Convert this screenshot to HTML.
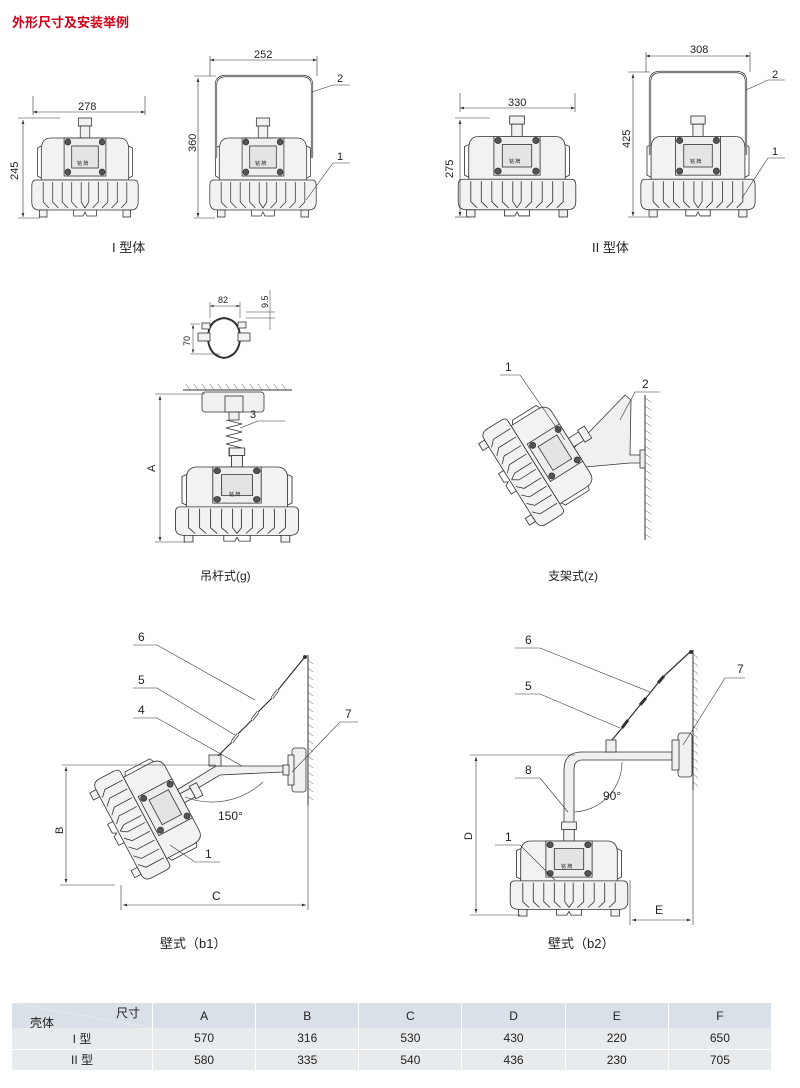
<!DOCTYPE html>
<html><head><meta charset="utf-8">
<style>
body{margin:0;background:#fff;width:800px;height:1088px;overflow:hidden;font-family:"Liberation Sans","Noto Sans CJK SC",sans-serif;}
svg text{font-family:"Liberation Sans","Noto Sans CJK SC",sans-serif;fill:#222;}
table{position:absolute;left:12px;top:1003px;width:760px;border-collapse:collapse;font-size:12px;color:#222;table-layout:fixed;}
td{text-align:center;border-right:1px solid #fff;}
</style></head><body>
<svg width="800" height="1000" viewBox="0 0 800 1000" style="position:absolute;left:0;top:0">
<defs>
<marker id="ar" markerWidth="8" markerHeight="6" refX="7" refY="3" orient="auto-start-reverse"><path d="M0,0.5 L7,3 L0,5.5z" fill="#333"/></marker>
<g id="lamp" stroke="#333" stroke-width="0.8" fill="#f2f2f2">
<rect x="-7" y="0" width="14" height="8"/>
<rect x="-5" y="8" width="10" height="12"/>
<path d="M-46,62 L-46,32 Q-46,20 -36,20 L36,20 Q46,20 46,32 L46,62z"/>
<path d="M-46,28 L-50,30 L-50,58 L-46,60 M46,28 L50,30 L50,58 L46,60" fill="none"/>
<rect x="-22" y="20" width="44" height="38" fill="#eee"/>
<rect x="-14" y="28" width="28" height="22" fill="#e4e4e4"/>
<circle cx="-18" cy="24" r="3" fill="#555"/><circle cx="18" cy="24" r="3" fill="#555"/>
<circle cx="-18" cy="54" r="3" fill="#555"/><circle cx="18" cy="54" r="3" fill="#555"/>
<path d="M-52,62 L52,62 Q56,62 56,68 L56,84 Q56,92 48,92 L-48,92 Q-56,92 -56,84 L-56,68 Q-56,62 -52,62z"/>
<path d="M-44,64 L-44,84 L-38,90 M-34,64 L-34,84 L-28,90 M-24,64 L-24,84 L-18,90 M-14,64 L-14,84 L-8,90 M-4,64 L-4,84 L0,90 M4,64 L4,84 L0,90 M14,64 L14,84 L8,90 M24,64 L24,84 L18,90 M34,64 L34,84 L28,90 M44,64 L44,84 L38,90" fill="none"/>
<rect x="-48" y="92" width="8" height="7"/><rect x="40" y="92" width="8" height="7"/>
<path d="M-12,92 L-12,98 L-2,98 L0,94 L2,98 L12,98 L12,92" fill="none"/>
</g>
</defs>
<text x="12" y="27" font-size="13" font-weight="bold" style="fill:#d0021b">外形尺寸及安装举例</text>

<!-- Type I -->
<use href="#lamp" transform="translate(85,118) scale(0.95,1)"/>
<text x="77" y="165" font-size="5">铭 牌</text>
<line x1="33" y1="115" x2="33" y2="96" stroke="#333" stroke-width="0.6"/><line x1="145" y1="115" x2="145" y2="96" stroke="#333" stroke-width="0.6"/>
<line x1="33" y1="112" x2="145" y2="112" stroke="#333" stroke-width="0.6" marker-start="url(#ar)" marker-end="url(#ar)"/>
<text x="78" y="110" font-size="11">278</text>
<line x1="18" y1="118" x2="60" y2="118" stroke="#333" stroke-width="0.6"/><line x1="18" y1="218" x2="40" y2="218" stroke="#333" stroke-width="0.6"/>
<line x1="23" y1="120" x2="23" y2="217" stroke="#333" stroke-width="0.6" marker-start="url(#ar)" marker-end="url(#ar)"/>
<text x="18" y="180" font-size="11" transform="rotate(-90 18 180)">245</text>

<use href="#lamp" transform="translate(263,118) scale(0.95,1)"/>
<text x="255" y="165" font-size="5">铭 牌</text>
<path d="M216,158 L216,85 Q216,76 226,76 L302,76 Q312,76 312,85 L312,158" fill="none" stroke="#333" stroke-width="2.2"/>
<path d="M216,158 L216,85 Q216,76 226,76 L302,76 Q312,76 312,85 L312,158" fill="none" stroke="#fff" stroke-width="0.8"/>
<line x1="210" y1="76" x2="210" y2="56" stroke="#333" stroke-width="0.6"/><line x1="317" y1="76" x2="317" y2="56" stroke="#333" stroke-width="0.6"/>
<line x1="210" y1="60" x2="317" y2="60" stroke="#333" stroke-width="0.6" marker-start="url(#ar)" marker-end="url(#ar)"/>
<text x="254" y="58" font-size="11">252</text>
<line x1="194" y1="76" x2="216" y2="76" stroke="#333" stroke-width="0.6"/><line x1="194" y1="218" x2="215" y2="218" stroke="#333" stroke-width="0.6"/>
<line x1="198" y1="78" x2="198" y2="217" stroke="#333" stroke-width="0.6" marker-start="url(#ar)" marker-end="url(#ar)"/>
<text x="196" y="152" font-size="11" transform="rotate(-90 196 152)">360</text>
<polyline points="312,92 333,85 350,85" fill="none" stroke="#333" stroke-width="0.6"/><text x="337" y="82" font-size="11">2</text>
<polyline points="306,200 333,163 350,163" fill="none" stroke="#333" stroke-width="0.6"/><text x="337" y="160" font-size="11">1</text>
<text x="112" y="252" font-size="13">I 型体</text>

<!-- Type II -->
<use href="#lamp" transform="translate(517,116) scale(1.05,1.02)"/>
<text x="509" y="163" font-size="5">铭 牌</text>
<line x1="460" y1="112" x2="460" y2="93" stroke="#333" stroke-width="0.6"/><line x1="575" y1="112" x2="575" y2="93" stroke="#333" stroke-width="0.6"/>
<line x1="460" y1="108" x2="575" y2="108" stroke="#333" stroke-width="0.6" marker-start="url(#ar)" marker-end="url(#ar)"/>
<text x="508" y="106" font-size="11">330</text>
<line x1="455" y1="118" x2="490" y2="118" stroke="#333" stroke-width="0.6"/><line x1="455" y1="217" x2="470" y2="217" stroke="#333" stroke-width="0.6"/>
<line x1="460" y1="120" x2="460" y2="216" stroke="#333" stroke-width="0.6" marker-start="url(#ar)" marker-end="url(#ar)"/>
<text x="453" y="178" font-size="11" transform="rotate(-90 453 178)">275</text>

<use href="#lamp" transform="translate(698,116) scale(1.02,1.02)"/>
<text x="690" y="163" font-size="5">铭 牌</text>
<path d="M650,155 L650,82 Q650,72 660,72 L736,72 Q746,72 746,82 L746,155" fill="none" stroke="#333" stroke-width="2.2"/>
<path d="M650,155 L650,82 Q650,72 660,72 L736,72 Q746,72 746,82 L746,155" fill="none" stroke="#fff" stroke-width="0.8"/>
<line x1="646" y1="72" x2="646" y2="52" stroke="#333" stroke-width="0.6"/><line x1="750" y1="72" x2="750" y2="52" stroke="#333" stroke-width="0.6"/>
<line x1="646" y1="56" x2="750" y2="56" stroke="#333" stroke-width="0.6" marker-start="url(#ar)" marker-end="url(#ar)"/>
<text x="690" y="53" font-size="11">308</text>
<line x1="628" y1="72" x2="650" y2="72" stroke="#333" stroke-width="0.6"/><line x1="628" y1="217" x2="648" y2="217" stroke="#333" stroke-width="0.6"/>
<line x1="633" y1="74" x2="633" y2="216" stroke="#333" stroke-width="0.6" marker-start="url(#ar)" marker-end="url(#ar)"/>
<text x="630" y="148" font-size="11" transform="rotate(-90 630 148)">425</text>
<polyline points="746,90 768,80 785,80" fill="none" stroke="#333" stroke-width="0.6"/><text x="772" y="78" font-size="11">2</text>
<polyline points="742,198 768,158 785,158" fill="none" stroke="#333" stroke-width="0.6"/><text x="772" y="155" font-size="11">1</text>
<text x="592" y="252" font-size="13">II 型体</text>

<!-- clamp -->
<g stroke="#333" stroke-width="0.8" fill="#f2f2f2">
<path d="M208,338 Q208,320 224,318 Q240,320 240,338" fill="none" stroke-width="2"/>
<path d="M208,340 Q210,356 224,358 Q238,356 240,340" fill="none" stroke-width="2"/>
<rect x="198" y="333" width="12" height="8"/><rect x="238" y="333" width="12" height="8"/>
<rect x="202" y="323" width="8" height="6"/><rect x="238" y="322" width="8" height="6"/>
</g>
<line x1="210" y1="318" x2="210" y2="302" stroke="#333" stroke-width="0.5"/><line x1="240" y1="318" x2="240" y2="302" stroke="#333" stroke-width="0.5"/>
<line x1="210" y1="306" x2="240" y2="306" stroke="#333" stroke-width="0.5" marker-start="url(#ar)" marker-end="url(#ar)"/>
<text x="218" y="303" font-size="9">82</text>
<line x1="246" y1="312" x2="275" y2="312" stroke="#333" stroke-width="0.5"/><line x1="246" y1="318" x2="275" y2="318" stroke="#333" stroke-width="0.5"/>
<line x1="270" y1="290" x2="270" y2="330" stroke="#333" stroke-width="0.5"/>
<text x="268" y="308" font-size="9" transform="rotate(-90 268 308)">9.5</text>
<line x1="190" y1="324" x2="200" y2="324" stroke="#333" stroke-width="0.5"/><line x1="190" y1="354" x2="220" y2="354" stroke="#333" stroke-width="0.5"/>
<line x1="193" y1="325" x2="193" y2="353" stroke="#333" stroke-width="0.5" marker-start="url(#ar)" marker-end="url(#ar)"/>
<text x="190" y="346" font-size="9" transform="rotate(-90 190 346)">70</text>

<!-- pendant -->
<line x1="183" y1="390" x2="292" y2="390" stroke="#333" stroke-width="1"/>
<g stroke="#555" stroke-width="0.5"><path d="M186,384 L190,390 M194,384 L198,390 M202,384 L206,390 M210,384 L214,390 M218,384 L222,390 M226,384 L230,390 M234,384 L238,390 M242,384 L246,390 M250,384 L254,390 M258,384 L262,390 M266,384 L270,390 M274,384 L278,390 M282,384 L286,390"/></g>
<g stroke="#333" stroke-width="0.8" fill="#f0f0f0">
<rect x="202" y="392" width="62" height="20" rx="3"/><rect x="225" y="396" width="18" height="16"/>
<rect x="229" y="412" width="10" height="8"/>
<path d="M226,420 L242,424 L226,428 L242,432 L226,436 L242,440 L226,444 L242,448" fill="none"/>
<rect x="229" y="448" width="10" height="8"/>
</g>
<use href="#lamp" transform="translate(237,448) scale(1.1,0.95)"/>
<text x="229" y="496" font-size="5">铭 牌</text>
<polyline points="240,428 258,421 285,421" fill="none" stroke="#333" stroke-width="0.6"/><text x="250" y="418" font-size="11">3</text>
<line x1="155" y1="394" x2="205" y2="394" stroke="#333" stroke-width="0.6"/><line x1="155" y1="542" x2="185" y2="542" stroke="#333" stroke-width="0.6"/>
<line x1="160" y1="396" x2="160" y2="541" stroke="#333" stroke-width="0.6" marker-start="url(#ar)" marker-end="url(#ar)"/>
<text x="155" y="472" font-size="11" transform="rotate(-90 155 472)">A</text>
<text x="200" y="580" font-size="12">吊杆式(g)</text>

<!-- bracket z -->
<line x1="645" y1="395" x2="645" y2="540" stroke="#333" stroke-width="1"/>
<g stroke="#555" stroke-width="0.5"><path d="M645,398 L651,402 M645,406 L651,410 M645,414 L651,418 M645,422 L651,426 M645,430 L651,434 M645,438 L651,442 M645,446 L651,450 M645,454 L651,458 M645,462 L651,466 M645,470 L651,474 M645,478 L651,482 M645,486 L651,490 M645,494 L651,498 M645,502 L651,506 M645,510 L651,514 M645,518 L651,522 M645,526 L651,530 M645,534 L651,538"/></g>
<g stroke="#333" stroke-width="0.8" fill="#f0f0f0">
<path d="M570,452 L625,395 L631,400 L630,455 L645,455 L645,463 L630,463 L574,468z"/>
<rect x="640" y="450" width="5" height="18"/>
</g>
<use href="#lamp" transform="translate(588,432) rotate(58)"/>
<polyline points="500,375 520,375 565,440" fill="none" stroke="#333" stroke-width="0.6"/><text x="505" y="371" font-size="12">1</text>
<polyline points="620,420 635,392 660,392" fill="none" stroke="#333" stroke-width="0.6"/><text x="642" y="388" font-size="12">2</text>
<text x="548" y="580" font-size="12">支架式(z)</text>

<!-- b1 -->
<line x1="308" y1="655" x2="308" y2="805" stroke="#333" stroke-width="1"/>
<g stroke="#555" stroke-width="0.5"><path d="M308,660 L313,664 M308,668 L313,672 M308,676 L313,680 M308,684 L313,688 M308,692 L313,696 M308,700 L313,704 M308,708 L313,712 M308,716 L313,720 M308,724 L313,728 M308,732 L313,736 M308,740 L313,744 M308,748 L313,752 M308,756 L313,760 M308,764 L313,768 M308,772 L313,776 M308,780 L313,784 M308,788 L313,792 M308,796 L313,800"/></g>
<g stroke="#333" stroke-width="0.8" fill="#f0f0f0">
<path d="M172,793 L216,766 L283,766 L283,772 L220,775 L178,800z"/>
<rect x="209" y="755" width="12" height="11"/>
<rect x="292" y="748" width="14" height="44" rx="3"/><rect x="288" y="755" width="6" height="30"/>
<rect x="283" y="765" width="6" height="10"/>
</g>
<path d="M218,756 L232,742 M238,734 L252,720 M258,712 L272,698 M278,690 L304,658" stroke="#333" stroke-width="1.2"/>
<path d="M232,742 L238,734 M252,720 L258,712 M272,698 L278,690" stroke="#333" stroke-width="3"/>
<path d="M232,742 L238,734 M252,720 L258,712 M272,698 L278,690" stroke="#f0f0f0" stroke-width="1.5"/>
<circle cx="305" cy="657" r="2" fill="#333"/>
<use href="#lamp" transform="translate(160,810) rotate(62) translate(0,-45)"/>
<line x1="62" y1="765" x2="216" y2="765" stroke="#333" stroke-width="0.6"/>
<line x1="60" y1="885" x2="115" y2="885" stroke="#333" stroke-width="0.6"/>
<line x1="66" y1="767" x2="66" y2="883" stroke="#333" stroke-width="0.6" marker-start="url(#ar)" marker-end="url(#ar)"/>
<text x="63" y="834" font-size="11" transform="rotate(-90 63 834)">B</text>
<line x1="121" y1="885" x2="121" y2="910" stroke="#333" stroke-width="0.6"/>
<line x1="308" y1="805" x2="308" y2="910" stroke="#333" stroke-width="0.6"/>
<line x1="123" y1="905" x2="306" y2="905" stroke="#333" stroke-width="0.6" marker-start="url(#ar)" marker-end="url(#ar)"/>
<text x="212" y="900" font-size="12">C</text>
<path d="M185,797 A75,75 0 0 0 263,782" fill="none" stroke="#333" stroke-width="0.6"/>
<text x="218" y="820" font-size="12">150°</text>
<polyline points="133,645 157,645 255,700" fill="none" stroke="#333" stroke-width="0.6"/><text x="138" y="641" font-size="12">6</text>
<polyline points="133,688 157,688 235,735" fill="none" stroke="#333" stroke-width="0.6"/><text x="138" y="684" font-size="12">5</text>
<polyline points="133,718 157,718 242,766" fill="none" stroke="#333" stroke-width="0.6"/><text x="138" y="714" font-size="12">4</text>
<polyline points="292,772 340,722 358,722" fill="none" stroke="#333" stroke-width="0.6"/><text x="345" y="718" font-size="12">7</text>
<polyline points="170,845 195,862 220,862" fill="none" stroke="#333" stroke-width="0.6"/><text x="205" y="858" font-size="12">1</text>
<text x="160" y="948" font-size="13">壁式（b1）</text>

<!-- b2 -->
<line x1="693" y1="650" x2="693" y2="790" stroke="#333" stroke-width="1"/>
<g stroke="#555" stroke-width="0.5"><path d="M693,654 L698,658 M693,662 L698,666 M693,670 L698,674 M693,678 L698,682 M693,686 L698,690 M693,694 L698,698 M693,702 L698,706 M693,710 L698,714 M693,718 L698,722 M693,726 L698,730 M693,734 L698,738 M693,742 L698,746 M693,750 L698,754 M693,758 L698,762 M693,766 L698,770 M693,774 L698,778 M693,782 L698,786"/></g>
<g stroke="#333" stroke-width="0.8" fill="#f0f0f0">
<path d="M564,825 L564,770 Q564,752 582,752 L672,752 L672,760 L582,760 Q574,760 574,770 L574,825z"/>
<rect x="606" y="740" width="10" height="12"/>
<rect x="678" y="733" width="14" height="44" rx="3"/><rect x="672" y="740" width="7" height="30"/>
</g>
<path d="M612,740 L622,728 M628,720 L640,705 M646,698 L658,683 M664,676 L690,652" stroke="#333" stroke-width="1.2"/>
<path d="M622,728 L628,720 M640,705 L646,698 M658,683 L664,676" stroke="#333" stroke-width="3"/>
<circle cx="691" cy="652" r="2" fill="#333"/>
<use href="#lamp" transform="translate(569,822) scale(1.05,0.95)"/>
<text x="561" y="868" font-size="5">铭 牌</text>
<path d="M574,812 A50,50 0 0 0 622,762" fill="none" stroke="#333" stroke-width="0.6"/>
<text x="603" y="800" font-size="12">90°</text>
<line x1="470" y1="755" x2="575" y2="755" stroke="#333" stroke-width="0.6"/>
<line x1="470" y1="915" x2="520" y2="915" stroke="#333" stroke-width="0.6"/>
<line x1="476" y1="757" x2="476" y2="913" stroke="#333" stroke-width="0.6" marker-start="url(#ar)" marker-end="url(#ar)"/>
<text x="472" y="840" font-size="11" transform="rotate(-90 472 840)">D</text>
<line x1="630" y1="880" x2="630" y2="925" stroke="#333" stroke-width="0.6"/>
<line x1="693" y1="790" x2="693" y2="925" stroke="#333" stroke-width="0.6"/>
<line x1="632" y1="920" x2="691" y2="920" stroke="#333" stroke-width="0.6" marker-start="url(#ar)" marker-end="url(#ar)"/>
<text x="655" y="914" font-size="12">E</text>
<polyline points="515,648 540,648 650,692" fill="none" stroke="#333" stroke-width="0.6"/><text x="525" y="644" font-size="12">6</text>
<polyline points="515,694 540,694 620,728" fill="none" stroke="#333" stroke-width="0.6"/><text x="525" y="690" font-size="12">5</text>
<polyline points="515,778 540,778 568,812" fill="none" stroke="#333" stroke-width="0.6"/><text x="525" y="774" font-size="12">8</text>
<polyline points="495,845 520,845 555,880" fill="none" stroke="#333" stroke-width="0.6"/><text x="505" y="841" font-size="12">1</text>
<polyline points="683,745 725,678 745,678" fill="none" stroke="#333" stroke-width="0.6"/><text x="737" y="673" font-size="12">7</text>
<text x="548" y="948" font-size="13">壁式（b2）</text>
</svg>

<table>
<tr style="background:#d9e0e8;height:25px">
<td style="width:138px;position:relative;text-align:left;background:linear-gradient(to top right,#d9e0e8 49.5%,#fff 50%,#d9e0e8 50.5%)"><span style="position:absolute;left:18px;top:11px">壳体</span><span style="position:absolute;right:12px;top:1px">尺寸</span></td>
<td>A</td><td>B</td><td>C</td><td>D</td><td>E</td><td>F</td></tr>
<tr style="background:#e8ebee;height:21px;border-bottom:1px solid #fff"><td>I 型</td><td>570</td><td>316</td><td>530</td><td>430</td><td>220</td><td>650</td></tr>
<tr style="background:#e8ebee;height:21px"><td>II 型</td><td>580</td><td>335</td><td>540</td><td>436</td><td>230</td><td>705</td></tr>
</table>
</body></html>
